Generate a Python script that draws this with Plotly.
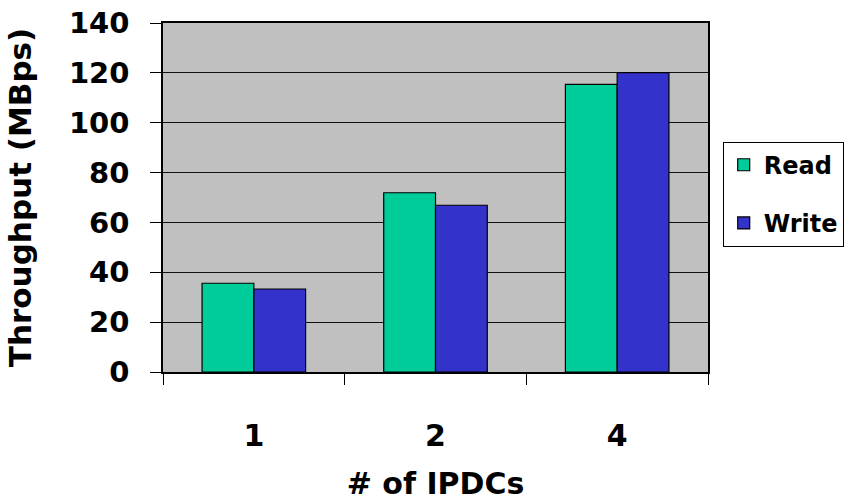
import plotly.graph_objects as go

categories = ["1", "2", "4"]
read_values = [35.6, 71.9, 115.4]
write_values = [33.3, 66.9, 120.1]
y_ticks = [0, 20, 40, 60, 80, 100, 120, 140]

FONT = "DejaVu Sans"

fig = go.Figure()
fig.add_trace(go.Bar(
    x=categories, y=read_values, name="Read", legendgroup="r",
    marker=dict(color="#00CC99", line=dict(color="black", width=1.2)),
))
fig.add_trace(go.Bar(
    x=categories, y=write_values, name="Write", legendgroup="w",
    marker=dict(color="#3333CC", line=dict(color="black", width=1.2)),
))

fig.update_layout(
    width=852, height=501,
    margin=dict(l=163, r=144, t=23, b=129, autoexpand=False),
    paper_bgcolor="white",
    plot_bgcolor="#C0C0C0",
    barmode="group",
    bargap=0.43,
    bargroupgap=0,
    font=dict(family=FONT, color="black"),
    showlegend=True,
    legend=dict(
        x=1.027, y=0.66, xanchor="left", yanchor="top",
        bgcolor="white", bordercolor="black", borderwidth=1,
        font=dict(family=FONT, size=24, color="black", weight="bold"),
        tracegroupgap=24,
    ),
    xaxis=dict(
        type="category", automargin=False,
        showline=True, linecolor="black", linewidth=1.5, mirror=True,
        ticks="outside", tickson="boundaries", ticklen=11, tickcolor="black", tickwidth=1.2,
        ticklabelstandoff=36, ticklabeloverflow="allow",
        tickfont=dict(family=FONT, size=30, color="black", weight="bold"),
        title=dict(text="# of IPDCs", font=dict(family=FONT, size=30, color="black", weight="bold"), standoff=27),
        showgrid=False,
    ),
    yaxis=dict(
        range=[0, 140], tickvals=y_ticks, automargin=False,
        showline=True, linecolor="black", linewidth=1.5, mirror=True,
        ticks="outside", ticklen=11, tickcolor="black", tickwidth=1.2,
        ticklabelstandoff=15, ticklabeloverflow="allow",
        showgrid=True, gridcolor="#111111", gridwidth=1.3,
        zeroline=False,
        tickfont=dict(family=FONT, size=29, color="black", weight="bold"),
        title=dict(text="Throughput (MBps)", font=dict(family=FONT, size=31, color="black", weight="bold"), standoff=28),
    ),
)

fig.write_html(
    "out.html",
    config={"displayModeBar": False},
    post_script="document.body.style.margin='0';",
)
